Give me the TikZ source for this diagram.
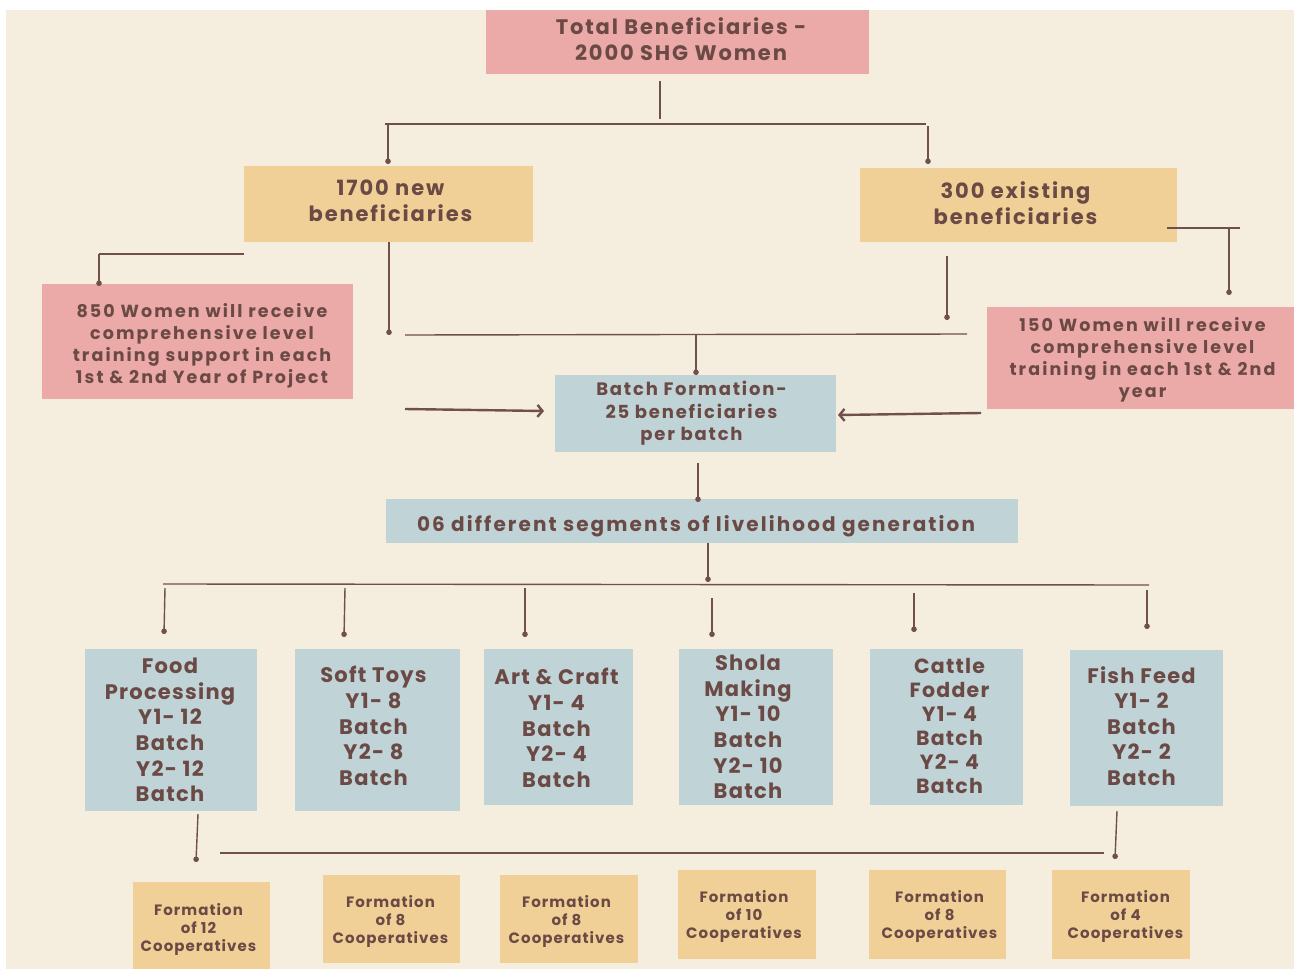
\documentclass[tikz,border=0pt]{standalone}
\usepackage{fontspec}
\setmainfont{Poppins}
\usetikzlibrary{arrows.meta}
\definecolor{bg}{HTML}{F5EDDE}
\definecolor{pinkb}{HTML}{EBA9A7}
\definecolor{yelb}{HTML}{F0D097}
\definecolor{blueb}{HTML}{C0D4D8}
\definecolor{ink}{HTML}{6B4A45}
\definecolor{wire}{HTML}{70504B}
% name, x1, y1, x2, y2, style, dx, dy, text
\newcommand\pbox[9]{%
  \path[#6] (#2,#3) rectangle (#4,#5);
  \node[#6, fill=none, box] (#1) at ({(#2+#4)/2+#7},{(#3+#5)/2+#8}) {#9};}
\begin{document}
\begin{tikzpicture}[x=1pt,y=-1pt,
  box/.style={rectangle, inner sep=0pt, align=center, text=ink},
  pinkbox/.style={fill=pinkb},
  yelbox/.style={fill=yelb},
  bluebox/.style={fill=blueb},
  fbig/.style={font=\bfseries\fontsize{21}{26}\selectfont\addfontfeature{LetterSpace=9}},
  fmid/.style={font=\bfseries\fontsize{17.5}{22}\selectfont\addfontfeature{LetterSpace=12}},
  fbat/.style={font=\bfseries\fontsize{18}{22.5}\selectfont\addfontfeature{LetterSpace=10}},
  fseg/.style={font=\bfseries\fontsize{20}{24}\selectfont\addfontfeature{LetterSpace=10.5}},
  fcat/.style={font=\bfseries\fontsize{21}{25.6}\selectfont\addfontfeature{LetterSpace=6}},
  fcat2/.style={font=\bfseries\fontsize{20.5}{24}\selectfont\addfontfeature{LetterSpace=6}},
  fcoop/.style={font=\bfseries\fontsize{15}{18}\selectfont\addfontfeature{LetterSpace=7}},
  wireline/.style={draw=wire, line width=1.4pt},
  dotend/.style={wireline, -{Circle[length=5.5pt]}},
  arrowline/.style={draw=wire, line width=2.4pt, -{Straight Barb[length=5pt,width=12pt]}}
]
\useasboundingbox (0,0) rectangle (1294,969);
\fill[white] (0,0) rectangle (1294,969);
\fill[bg] (6,10) rectangle (1294,969);

% boxes
\pbox{title}{486}{10}{869}{74}{pinkbox,fbig}{3.5}{-3}{Total Beneficiaries -\\2000 SHG Women}
\pbox{n1700}{244}{166}{533}{242}{yelbox,fbig}{2}{-3}{1700 new\\beneficiaries}
\pbox{n300}{860}{168}{1177}{242}{yelbox,fbig}{-3}{-2}{300 existing\\beneficiaries}
\pbox{n850}{42}{284}{353}{399}{pinkbox,fmid}{4.5}{4}{850 Women will receive\\comprehensive level\\training support in each\\1st \& 2nd Year of Project}
\pbox{n150}{987}{307}{1294}{409}{pinkbox,fmid}{2}{2}{150 Women will receive\\comprehensive level\\training in each 1st \& 2nd\\year}
\pbox{batch}{555}{375}{836}{452}{bluebox,fbat}{-4}{0}{Batch Formation-\\25 beneficiaries\\per batch}
\pbox{seg}{386}{499}{1018}{543}{bluebox,fseg}{-6}{5}{06 different segments of livelihood generation}
\pbox{food}{85}{649}{257}{811}{bluebox,fcat}{-1}{0}{Food\\Processing\\Y1- 12\\Batch\\Y2- 12\\Batch}
\pbox{soft}{295}{649}{460}{811}{bluebox,fcat}{-4}{-4}{Soft Toys\\Y1- 8\\Batch\\Y2- 8\\Batch}
\pbox{art}{484}{649}{633}{805}{bluebox,fcat}{-2}{1}{Art \& Craft\\Y1- 4\\Batch\\Y2- 4\\Batch}
\pbox{shola}{679}{649}{833}{805}{bluebox,fcat}{-8}{0}{Shola\\Making\\Y1- 10\\Batch\\Y2- 10\\Batch}
\pbox{cattle}{870}{649}{1023}{805}{bluebox,fcat2}{3}{-1}{Cattle\\Fodder\\Y1- 4\\Batch\\Y2- 4\\Batch}
\pbox{fish}{1070}{650}{1223}{806}{bluebox,fcat}{-5}{-2}{Fish Feed\\Y1- 2\\Batch\\Y2- 2\\Batch}
\pbox{c1}{133}{882}{270}{969}{yelbox,fcoop}{-3}{4}{Formation\\of 12\\Cooperatives}
\pbox{c2}{323}{875}{460}{963}{yelbox,fcoop}{-1}{2}{Formation\\of 8\\Cooperatives}
\pbox{c3}{500}{875}{638}{963}{yelbox,fcoop}{-2.5}{2}{Formation\\of 8\\Cooperatives}
\pbox{c4}{678}{870}{816}{959}{yelbox,fcoop}{-3}{2}{Formation\\of 10\\Cooperatives}
\pbox{c5}{869}{870}{1006}{959}{yelbox,fcoop}{2}{2}{Formation\\of 8\\Cooperatives}
\pbox{c6}{1052}{870}{1190}{959}{yelbox,fcoop}{4.5}{2}{Formation\\of 4\\Cooperatives}

% coordinates
\coordinate (ta) at (660,81);   \coordinate (tb) at (660,119);
\coordinate (ha) at (385,124);  \coordinate (hb) at (926,124);
\coordinate (la) at (388,124);  \coordinate (lb) at (388,164);
\coordinate (ra) at (928,126);  \coordinate (rb) at (928,164);
\coordinate (l8a) at (244,254); \coordinate (l8b) at (99,254); \coordinate (l8c) at (99,286);
\coordinate (v17a) at (389,242); \coordinate (v17b) at (389,335);
\coordinate (ma) at (405,335);  \coordinate (mb) at (967,334);
\coordinate (bja) at (696,335); \coordinate (bjb) at (696,375);
\coordinate (v30a) at (947,256); \coordinate (v30b) at (947,320);
\coordinate (r15a) at (1167,228); \coordinate (r15b) at (1240,228);
\coordinate (r15c) at (1229,228); \coordinate (r15d) at (1229,295);
\coordinate (ala) at (405,409); \coordinate (alb) at (544,411);
\coordinate (ara) at (981,413); \coordinate (arb) at (838,415);
\coordinate (bsa) at (698,463); \coordinate (bsb) at (698,502);
\coordinate (sva) at (708,543); \coordinate (svb) at (708,582);
\coordinate (lha) at (163,584); \coordinate (lhb) at (1149,585);
\coordinate (d1a) at (165,588); \coordinate (d1b) at (164,634);
\coordinate (d2a) at (345,588); \coordinate (d2b) at (344,637);
\coordinate (d3a) at (525,588); \coordinate (d3b) at (525,637);
\coordinate (d4a) at (712,598); \coordinate (d4b) at (712,637);
\coordinate (d5a) at (914,593); \coordinate (d5b) at (914,632);
\coordinate (d6a) at (1147,590); \coordinate (d6b) at (1147,629);
\coordinate (bha) at (220,853); \coordinate (bhb) at (1104,853);
\coordinate (fda) at (198,814); \coordinate (fdb) at (196,862);
\coordinate (fsa) at (1117,811); \coordinate (fsb) at (1115,859);

% connectors
\draw[wireline] (ta) -- (tb);
\draw[wireline] (ha) -- (hb);
\draw[dotend] (la) -- (lb);
\draw[dotend] (ra) -- (rb);
\draw[wireline] (l8a) -- (l8b);
\draw[dotend] (l8b) -- (l8c);
\draw[dotend] (v17a) -- (v17b);
\draw[wireline] (ma) -- (mb);
\draw[dotend] (bja) -- (bjb);
\draw[dotend] (v30a) -- (v30b);
\draw[wireline] (r15a) -- (r15b);
\draw[dotend] (r15c) -- (r15d);
\draw[arrowline] (ala) -- (alb);
\draw[arrowline] (ara) -- (arb);
\draw[dotend] (bsa) -- (bsb);
\draw[dotend] (sva) -- (svb);
\draw[wireline] (lha) -- (lhb);
\draw[dotend] (d1a) -- (d1b);
\draw[dotend] (d2a) -- (d2b);
\draw[dotend] (d3a) -- (d3b);
\draw[dotend] (d4a) -- (d4b);
\draw[dotend] (d5a) -- (d5b);
\draw[dotend] (d6a) -- (d6b);
\draw[wireline] (bha) -- (bhb);
\draw[dotend] (fda) -- (fdb);
\draw[dotend] (fsa) -- (fsb);
\end{tikzpicture}
\end{document}
